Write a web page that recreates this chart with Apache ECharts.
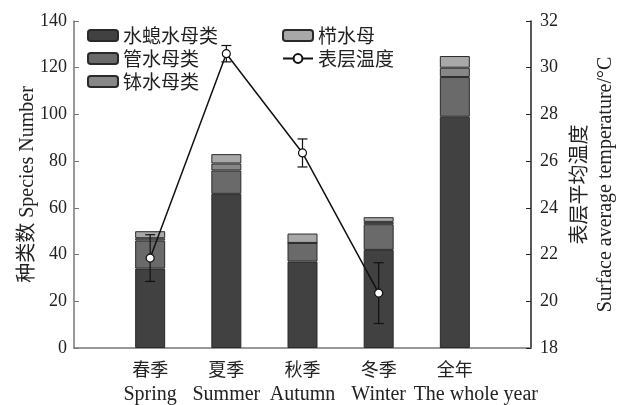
<!DOCTYPE html>
<html>
<head>
<meta charset="utf-8">
<script src="https://cdn.jsdelivr.net/npm/echarts@6/dist/echarts.min.js"></script>
<style>
  html, body { margin: 0; padding: 0; background: #fff; }
  #main { width: 619px; height: 405px; }
</style>
</head>
<body>
<div id="main"></div>
<script>
// categories
var categories = ['春季', '夏季', '秋季', '冬季', '全年'];
var categoriesEn = ['Spring', 'Summer', 'Autumn', 'Winter', 'The whole year'];
// species numbers (stacked)
var hydro = [34, 66, 37, 42, 99];     // 水螅水母类
var siphono = [12, 10, 8, 11, 17];    // 管水母类
var scypho = [1, 3, 0, 1, 4];         // 钵水母类
var cteno = [3, 4, 4, 2, 5];          // 栉水母
// surface temperature (no value for whole year)
var temp = [21.85, 30.6, 26.35, 20.35];
var tempErr = [1.0, 0.35, 0.6, 1.3];

var serif = "'Liberation Serif', 'Noto Sans CJK SC', serif";
var cjk = "'Noto Sans CJK SC', sans-serif";

// axis has an empty slot before the first and after the last category
var slots = [''].concat(categories).concat(['']);
function pad(arr) {
  var out = ['-'].concat(arr);
  while (out.length < slots.length) out.push('-');
  return out;
}

function barSeries(name, data, color) {
  return {
    name: name,
    type: 'bar',
    stack: 'species',
    barWidth: 30,
    data: pad(data),
    itemStyle: { color: color, borderColor: '#2a2a2a', borderWidth: 1 }
  };
}

var myChart = echarts.init(document.getElementById('main'));
myChart.setOption({
  animation: false,
  grid: { left: 74, right: 88, top: 21, bottom: 57, outerBoundsMode: 'none' },
  legend: [{
    orient: 'vertical',
    left: 82,
    top: 21,
    itemWidth: 30,
    itemHeight: 11,
    itemGap: 4,
    icon: 'roundRect',
    textStyle: { fontFamily: cjk, fontSize: 19, color: '#222' },
    data: ['水螅水母类', '管水母类', '钵水母类']
  }, {
    orient: 'vertical',
    left: 277,
    top: 21,
    itemWidth: 30,
    itemHeight: 11,
    itemGap: 4,
    textStyle: { fontFamily: cjk, fontSize: 19, color: '#222' },
    data: [{ name: '栉水母', icon: 'roundRect' }, '表层温度']
  }],
  xAxis: {
    type: 'category',
    data: slots,
    boundaryGap: false,
    axisTick: { show: false },
    axisLine: { lineStyle: { color: '#777', width: 1.5 } },
    axisLabel: {
      margin: 8,
      interval: 0,
      formatter: function (v, idx) {
        var i = idx - 1;
        if (i < 0 || i >= categories.length) return '';
        var key = i === categories.length - 1 ? 'enw' : 'en';
        return '{cn|' + categories[i] + '}\n{' + key + '|' + categoriesEn[i] + '}';
      },
      rich: {
        cn: { fontFamily: cjk, fontSize: 18, color: '#222', lineHeight: 26 },
        en: { fontFamily: serif, fontSize: 20, color: '#222', lineHeight: 25 },
        enw: { fontFamily: serif, fontSize: 20, color: '#222', lineHeight: 25, padding: [0, 0, 0, 42] }
      }
    }
  },
  yAxis: [{
    type: 'value',
    min: 0,
    max: 140,
    interval: 20,
    name: '种类数 Species Number',
    nameLocation: 'middle',
    nameRotate: 90,
    nameGap: 36,
    nameMoveOverlap: false,
    nameTextStyle: { fontFamily: serif, fontSize: 20, color: '#222' },
    splitLine: { show: false },
    axisLine: { show: true, lineStyle: { color: '#777', width: 1.5 } },
    axisTick: { show: true, inside: true, length: 5, lineStyle: { color: '#777' } },
    axisLabel: { margin: 7, fontFamily: serif, fontSize: 18, color: '#222' }
  }, {
    type: 'value',
    position: 'right',
    min: 18,
    max: 32,
    interval: 2,
    name: '表层平均温度\nSurface average temperature/°C',
    nameLocation: 'middle',
    nameRotate: 90,
    nameGap: 37,
    nameMoveOverlap: false,
    nameTextStyle: { fontFamily: serif, fontSize: 20, color: '#222', lineHeight: 25 },
    splitLine: { show: false },
    axisLine: { show: true, lineStyle: { color: '#222', width: 1.5 } },
    axisTick: { show: true, inside: true, length: 5, lineStyle: { color: '#222' } },
    axisLabel: { margin: 9, fontFamily: serif, fontSize: 18, color: '#222' }
  }],
  series: [
    barSeries('水螅水母类', hydro, '#414141'),
    barSeries('管水母类', siphono, '#6a6a6a'),
    barSeries('钵水母类', scypho, '#878787'),
    barSeries('栉水母', cteno, '#a8a8a8'),
    {
      name: 'err',
      type: 'custom',
      yAxisIndex: 1,
      z: 3,
      data: temp.map(function (v, i) { return [i + 1, v - tempErr[i], v + tempErr[i]]; }),
      renderItem: function (params, api) {
        var x = api.value(0);
        var lo = api.coord([x, api.value(1)]);
        var hi = api.coord([x, api.value(2)]);
        var w = 5;
        var style = { stroke: '#111', lineWidth: 1.2 };
        return {
          type: 'group',
          children: [
            { type: 'line', shape: { x1: lo[0], y1: lo[1], x2: hi[0], y2: hi[1] }, style: style },
            { type: 'line', shape: { x1: lo[0] - w, y1: lo[1], x2: lo[0] + w, y2: lo[1] }, style: style },
            { type: 'line', shape: { x1: hi[0] - w, y1: hi[1], x2: hi[0] + w, y2: hi[1] }, style: style }
          ]
        };
      }
    },
    {
      name: '表层温度',
      type: 'line',
      yAxisIndex: 1,
      z: 4,
      data: pad(temp),
      symbol: 'circle',
      symbolSize: 8,
      lineStyle: { color: '#111', width: 1.5 },
      itemStyle: { color: '#fff', borderColor: '#111', borderWidth: 1.2 }
    }
  ]
});
</script>
</body>
</html>
